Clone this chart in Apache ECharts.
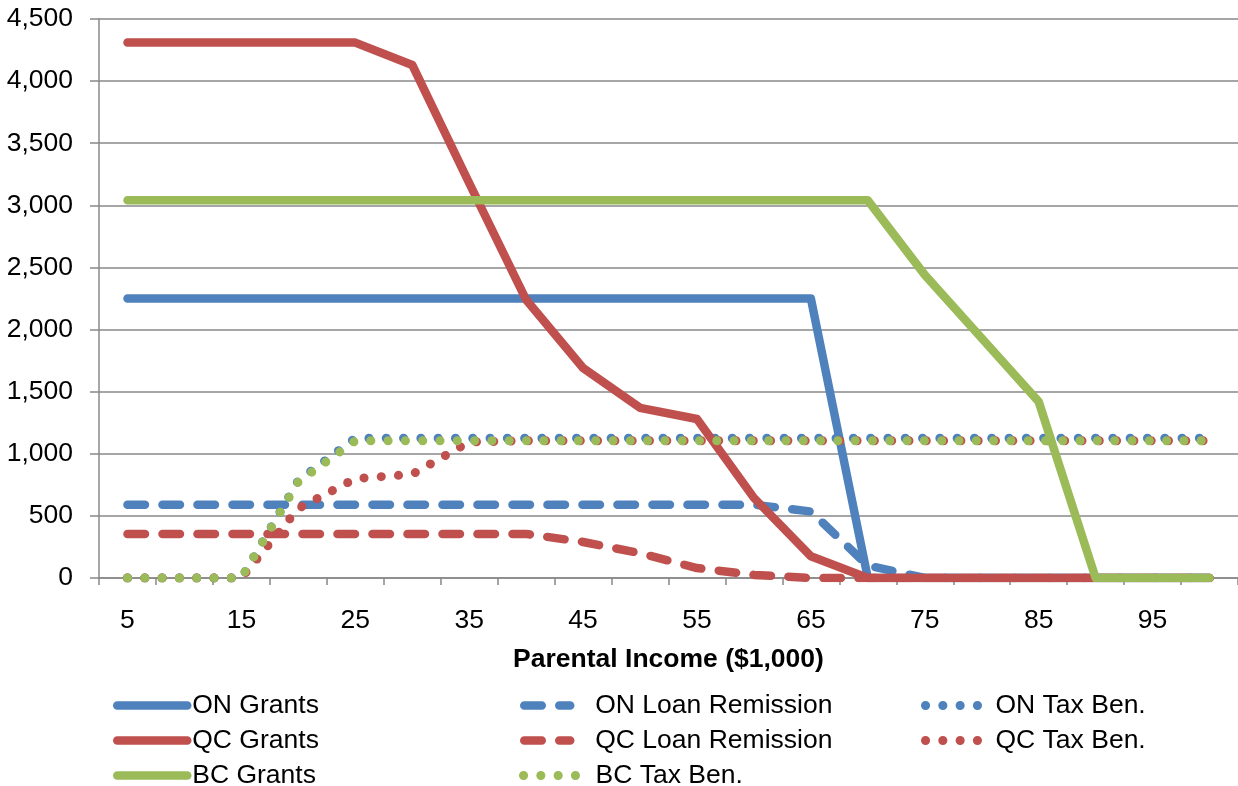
<!DOCTYPE html>
<html>
<head>
<meta charset="utf-8">
<script src="https://cdn.jsdelivr.net/npm/echarts@6/dist/echarts.min.js"></script>
<style>
html,body{margin:0;padding:0;background:#fff;}
#chart{width:1238px;height:786px;}
</style>
</head>
<body>
<div id="chart"></div>
<script>
// Parental income categories ($1,000)
var categories = ['5','10','15','20','25','30','35','40','45','50','55','60','65','70','75','80','85','90','95','100'];

var onGrants = [2250,2250,2250,2250,2250,2250,2250,2250,2250,2250,2250,2250,2250,0,0,0,0,0,0,0];
var onLoan   = [590,590,590,590,590,590,590,590,590,590,590,590,535,100,0,0,0,0,0,0];
var onTax    = [0,0,0,785,1125,1125,1125,1125,1125,1125,1125,1125,1125,1125,1125,1125,1125,1125,1125,1125];
var qcGrants = [4310,4310,4310,4310,4310,4130,3180,2240,1690,1370,1280,645,175,0,0,0,0,0,0,0];
var qcLoan   = [355,355,355,355,355,355,355,355,290,200,80,25,0,0,0,0,0,0,0,0];
var qcTax    = [0,0,0,560,800,835,1095,1105,1105,1105,1105,1105,1105,1105,1105,1105,1105,1105,1105,1105];
var bcGrants = [3040,3040,3040,3040,3040,3040,3040,3040,3040,3040,3040,3040,3040,3040,2440,1930,1420,0,0,0];
var bcTax    = [0,0,0,775,1105,1105,1105,1105,1105,1105,1105,1105,1105,1105,1105,1105,1105,1105,1105,1105];

var yTicks = {min: 0, max: 4500, interval: 500};

var BLUE = '#4F81BD', RED = '#C0504D', GREEN = '#9BBB59';
var LW = 8.5;
var DOTW = 9;
var DASH = [17.5, 17.5];
var DOT = [0.1, 17.2];

function mk(name, data, color, dash) {
  return {
    name: name,
    type: 'line',
    data: data,
    symbol: 'none',
    showSymbol: false,
    animation: false,
    lineStyle: {color: color, width: dash === DOT ? DOTW : LW, type: dash || 'solid', cap: 'round', join: 'round'},
    itemStyle: {color: color}
  };
}

var FONT = 'Liberation Sans, Arial, sans-serif';
var FS = 26.5;

function lg(name, left, top, width, textPad, dot) {
  return {
    orient: 'horizontal', left: left, top: top, padding: 0,
    itemWidth: width, itemHeight: 14,
    data: [name],
    itemStyle: {opacity: 0},
    lineStyle: {width: dot ? DOTW : LW, cap: 'round'},
    textStyle: {fontFamily: FONT, fontSize: FS, color: '#000', lineHeight: 26, padding: [0, 0, 0, textPad]}
  };
}

var rowTop = [692, 727, 762];

var chart = echarts.init(document.getElementById('chart'));
chart.setOption({
  animation: false,
  backgroundColor: '#fff',
  textStyle: {fontFamily: FONT},
  grid: {left: 99, right: -8.6, top: 19, bottom: 208, containLabel: false},
  xAxis: {
    type: 'category',
    data: categories,
    boundaryGap: true,
    name: 'Parental Income ($1,000)',
    nameLocation: 'middle',
    nameGap: 68,
    nameTextStyle: {fontFamily: FONT, fontSize: FS, fontWeight: 'bold', color: '#000'},
    axisLine: {show: true, lineStyle: {color: '#888888', width: 1.5}},
    axisTick: {show: true, interval: 0, length: 7, alignWithLabel: false, lineStyle: {color: '#888888', width: 1.5}},
    axisLabel: {interval: 1, margin: 29, fontFamily: FONT, fontSize: FS, color: '#000'},
    splitLine: {show: false}
  },
  yAxis: {
    type: 'value',
    min: yTicks.min,
    max: yTicks.max,
    interval: yTicks.interval,
    axisLine: {show: true, lineStyle: {color: '#888888', width: 1.5}},
    axisTick: {show: true, length: 9, lineStyle: {color: '#888888', width: 1.5}},
    axisLabel: {
      margin: 26, fontFamily: FONT, fontSize: FS, color: '#000',
      formatter: function (v) { return v.toString().replace(/\B(?=(\d{3})+(?!\d))/g, ','); }
    },
    splitLine: {show: true, lineStyle: {color: '#888888', width: 1.5}}
  },
  legend: [
    lg('ON Grants', 113, rowTop[0], 70, 0, false),
    lg('QC Grants', 113, rowTop[1], 70, 0, false),
    lg('BC Grants', 113, rowTop[2], 70, 0, false),
    lg('ON Loan Remission', 520, rowTop[0], 46, 20, false),
    lg('QC Loan Remission', 520, rowTop[1], 46, 20, false),
    lg('BC Tax Ben.', 519, rowTop[2], 53, 14, true),
    lg('ON Tax Ben.', 921, rowTop[0], 53, 12, true),
    lg('QC Tax Ben.', 921, rowTop[1], 53, 12, true)
  ],
  series: [
    mk('ON Grants', onGrants, BLUE),
    mk('ON Loan Remission', onLoan, BLUE, DASH),
    mk('ON Tax Ben.', onTax, BLUE, DOT),
    mk('QC Grants', qcGrants, RED),
    mk('QC Loan Remission', qcLoan, RED, DASH),
    mk('QC Tax Ben.', qcTax, RED, DOT),
    mk('BC Grants', bcGrants, GREEN),
    mk('BC Tax Ben.', bcTax, GREEN, DOT)
  ]
});
</script>
</body>
</html>
